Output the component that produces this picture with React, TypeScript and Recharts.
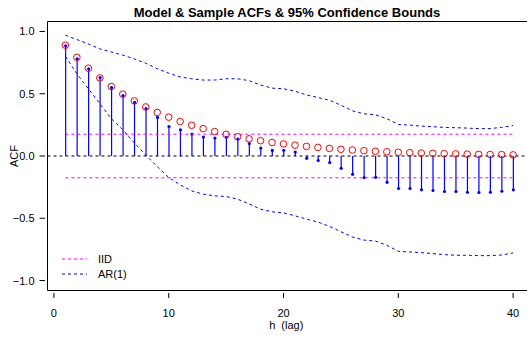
import React from 'react';
import { ComposedChart, Bar, Scatter, Line, XAxis, YAxis, ReferenceLine, Legend } from 'recharts';

const lags = [
    1, 2, 3, 4, 5, 6, 7, 8, 9, 10, 11, 12, 13, 14, 15, 16, 17, 18, 19, 20,
    21, 22, 23, 24, 25, 26, 27, 28, 29, 30, 31, 32, 33, 34, 35, 36, 37, 38, 39, 40,
];

// model (AR(1)) ACF - red circles
const modelAcf = [
    0.890, 0.792, 0.705, 0.627, 0.558, 0.497, 0.442, 0.394, 0.350, 0.312,
    0.277, 0.247, 0.220, 0.196, 0.174, 0.155, 0.138, 0.123, 0.109, 0.097,
    0.087, 0.077, 0.069, 0.061, 0.054, 0.048, 0.043, 0.038, 0.034, 0.030,
    0.027, 0.024, 0.021, 0.019, 0.017, 0.015, 0.013, 0.012, 0.011, 0.009,
];

// sample ACF - blue stems
const sampleAcf = [
    0.885, 0.78, 0.70, 0.63, 0.55, 0.485, 0.43, 0.38, 0.31, 0.237,
    0.21, 0.176, 0.152, 0.144, 0.15, 0.136, 0.10, 0.064, 0.045, 0.046,
    0.032, -0.019, -0.037, -0.053, -0.099, -0.147, -0.173, -0.171, -0.211, -0.261,
    -0.261, -0.272, -0.277, -0.285, -0.285, -0.291, -0.293, -0.291, -0.283, -0.272,
];

// AR(1) 95% bounds
const ar1Upper = [
    0.97, 0.935, 0.90, 0.86, 0.835, 0.81, 0.78, 0.745, 0.70, 0.665,
    0.635, 0.62, 0.61, 0.61, 0.62, 0.62, 0.605, 0.57, 0.545, 0.54,
    0.52, 0.49, 0.47, 0.448, 0.408, 0.363, 0.339, 0.331, 0.30, 0.253,
    0.248, 0.24, 0.235, 0.23, 0.227, 0.224, 0.22, 0.22, 0.23, 0.245,
];
const ar1Lower = [
    0.80, 0.66, 0.54, 0.42, 0.30, 0.21, 0.106, 0.008, -0.085, -0.173,
    -0.232, -0.28, -0.307, -0.32, -0.325, -0.347, -0.384, -0.427, -0.448, -0.457,
    -0.48, -0.507, -0.53, -0.565, -0.608, -0.65, -0.675, -0.683, -0.717, -0.765,
    -0.771, -0.776, -0.784, -0.792, -0.797, -0.797, -0.80, -0.80, -0.795, -0.779,
];

// IID bound +/- 1.96/sqrt(n)
const iidBound = 0.175;

const xTicks = [0, 10, 20, 30, 40];
const yTicks = [-1, -0.5, 0, 0.5, 1];
const yTickLabels = ['\u22121.0', '\u22120.5', '0.0', '0.5', '1.0'];

const chartData = lags.map((lag, i) => ({
    lag,
    model: modelAcf[i],
    sample: sampleAcf[i],
    upper: ar1Upper[i],
    lower: ar1Lower[i],
}));

const FONT = '"Liberation Sans", Arial, Helvetica, sans-serif';
const BLUE = '#0000FF';
const RED = '#FF0000';
const MAGENTA = '#FF00FF';

const Stem = (props: any) => {
    const { x, y, width, height, payload } = props;
    const cx = x + width / 2;
    const y1 = Math.min(y, y + height);
    const y2 = Math.max(y, y + height);
    const tip = payload.sample < 0 ? y2 : y1;
    return (
        <g>
            <line x1={cx} x2={cx} y1={y1} y2={y2} stroke={BLUE} strokeWidth={1.2} />
            <circle cx={cx} cy={tip} r={1.6} fill={BLUE} />
        </g>
    );
};

const Ring = (props: any) => (
    <circle cx={props.cx} cy={props.cy} r={3.3} fill="none" stroke={RED} strokeWidth={1} />
);

const XTick = (p: any) => (
    <g>
        <line x1={p.x} x2={p.x} y1={p.y + 2.5} y2={p.y + 7.5} stroke="#000" />
        <text x={p.x} y={p.y + 26} textAnchor="middle" fontSize={11} fontFamily={FONT} fill="#000">
            {p.payload.value}
        </text>
    </g>
);

const YTick = (p: any) => {
    const idx = yTicks.indexOf(p.payload.value);
    return (
        <g>
            <line x1={p.x - 8} x2={p.x - 2.5} y1={p.y} y2={p.y} stroke="#000" />
            <text x={p.x - 13} y={p.y + 4} textAnchor="end" fontSize={11} fontFamily={FONT} fill="#000">
                {yTickLabels[idx]}
            </text>
        </g>
    );
};

const LegendBox = () => (
    <svg width={80} height={30} style={{ display: 'block' }}>
        <line x1={7} x2={32} y1={9} y2={9} stroke={MAGENTA} strokeDasharray="3 3" />
        <text x={43} y={13} fontSize={11} fontFamily={FONT} fill="#000">IID</text>
        <line x1={7} x2={32} y1={24} y2={24} stroke={BLUE} strokeDasharray="3 3" />
        <text x={43} y={28} fontSize={11} fontFamily={FONT} fill="#000">AR(1)</text>
    </svg>
);

const App: React.FC = () => {
    return (
        <div style={{ position: 'absolute', left: 0, top: 0, width: 527, height: 337, overflow: 'hidden', background: '#fff' }}>
            <div
                style={{
                    position: 'absolute', left: 0, top: 5, width: 574, textAlign: 'center',
                    fontFamily: FONT, fontWeight: 'bold', fontSize: 13, lineHeight: '15px', color: '#000',
                }}
            >
                Model &amp; Sample ACFs &amp; 95% Confidence Bounds
            </div>
            <ComposedChart
                width={540}
                height={337}
                data={chartData}
                margin={{ top: 21.5, right: 9, bottom: 16.5, left: 0 }}
            >
                <XAxis
                    dataKey="lag"
                    type="number"
                    domain={[-0.56, 41.56]}
                    allowDataOverflow
                    ticks={xTicks}
                    interval={0}
                    height={30}
                    tickSize={0}
                    tickMargin={0}
                    tickLine={false}
                    axisLine={{ stroke: '#000' }}
                    tick={<XTick />}
                    label={(props: any) => {
                        const vb = props.viewBox || { x: 47.5, y: 290.5, width: 483.5 };
                        return (
                            <text
                                x={vb.x + vb.width / 2 - 3}
                                y={vb.y + 38}
                                textAnchor="middle"
                                fontSize={11}
                                fontFamily={FONT}
                                fill="#000"
                                style={{ whiteSpace: 'pre' }}
                            >
                                {'h  (lag)'}
                            </text>
                        );
                    }}
                />
                <YAxis
                    type="number"
                    domain={[-1.08, 1.08]}
                    allowDataOverflow
                    ticks={yTicks}
                    interval={0}
                    width={47.5}
                    tickSize={0}
                    tickMargin={0}
                    tickLine={false}
                    axisLine={{ stroke: '#000' }}
                    tick={<YTick />}
                    label={(props: any) => {
                        const vb = props.viewBox || { x: 0, y: 21.5, height: 269 };
                        const cx = vb.x + 17.5;
                        const cy = vb.y + vb.height / 2;
                        return (
                            <text
                                x={cx}
                                y={cy}
                                transform={`rotate(-90 ${cx} ${cy})`}
                                textAnchor="middle"
                                fontSize={11}
                                fontFamily={FONT}
                                fill="#000"
                            >
                                ACF
                            </text>
                        );
                    }}
                />
                <ReferenceLine y={1.08} stroke="#000" ifOverflow="visible" />
                <ReferenceLine y={0} stroke="#000" strokeDasharray="3 3" />
                <ReferenceLine
                    segment={[{ x: 1, y: iidBound }, { x: 40, y: iidBound }]}
                    stroke={MAGENTA}
                    strokeDasharray="3 3"
                />
                <ReferenceLine
                    segment={[{ x: 1, y: -iidBound }, { x: 40, y: -iidBound }]}
                    stroke={MAGENTA}
                    strokeDasharray="3 3"
                />
                <Line dataKey="upper" stroke={BLUE} strokeWidth={1} strokeDasharray="3 3" dot={false} isAnimationActive={false} />
                <Line dataKey="lower" stroke={BLUE} strokeWidth={1} strokeDasharray="3 3" dot={false} isAnimationActive={false} />
                <Bar dataKey="sample" barSize={2} shape={<Stem />} isAnimationActive={false} />
                <Scatter dataKey="model" shape={<Ring />} isAnimationActive={false} />
                <Legend
                    layout="horizontal"
                    verticalAlign="middle"
                    align="center"
                    content={<LegendBox />}
                    wrapperStyle={{ position: 'absolute', left: 55, top: 250, width: 80, height: 30 }}
                />
            </ComposedChart>
        </div>
    );
};

export default App;
